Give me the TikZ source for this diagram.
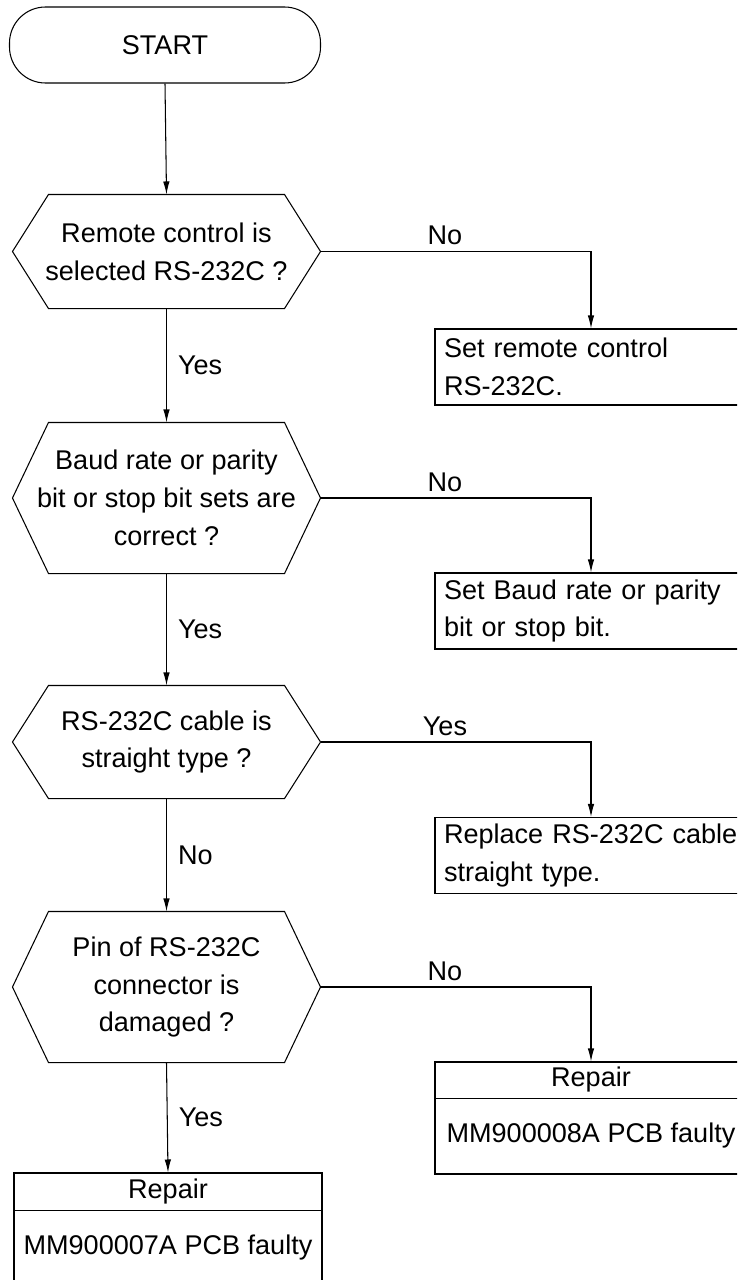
\documentclass[tikz,border=0pt]{standalone}
\usepackage{fontspec}
\setmainfont{Liberation Sans}
\usetikzlibrary{arrows.meta}

\tikzset{
  every node/.style={font=\fontsize{15.4}{21.5}\selectfont},
  terminal/.style={rectangle, draw, rounded corners=0.72cm, minimum width=6.22cm, minimum height=1.52cm},
  decision/.style={rectangle, minimum width=6.14cm, align=center, inner sep=0pt},
  action/.style={rectangle, draw, minimum height=1.52cm, text width=5.88cm, inner xsep=0.18cm, align=left},
  repairbox/.style={rectangle, draw, minimum height=2.24cm},
  flow/.style={-{Latex[length=0.26cm,width=0.13cm]}},
  answer/.style={inner sep=0.12cm}
}

\begin{document}
\begin{tikzpicture}[line width=0.6pt]
			\clip (0,0) rectangle (14.74,-25.6);
			
			% Main column
			\node[terminal] (start) at (3.30,-0.90) {START};
			\node[decision, minimum height=2.26cm] (q1) at (3.33,-5.03) {Remote control is\\selected RS-232C ?};
			\node[decision, minimum height=3.0cm] (q2) at (3.33,-9.96) {Baud rate or parity\\bit or stop bit sets are\\correct ?};
			\node[decision, minimum height=2.24cm] (q3) at (3.33,-14.84) {RS-232C cable is\\straight type ?};
			\node[decision, minimum height=3.0cm] (q4) at (3.33,-19.74) {Pin of RS-232C\\connector is\\damaged ?};
			\node[repairbox, minimum width=6.16cm] (rep7) at (3.36,-24.58) {};
			
			% Hexagon outlines
			\foreach \q in {q1,q2,q3,q4}
			\draw (\q.west) -- ([xshift=0.72cm]\q.north west) -- ([xshift=-0.72cm]\q.north east)
			-- (\q.east) -- ([xshift=-0.72cm]\q.south east) -- ([xshift=0.72cm]\q.south west) -- cycle;
			
			% Right column
			\node[action] (act1) at (11.82,-7.34) {Set remote control\\RS-232C.};
			\node[action] (act2) at (11.82,-12.22) {Set Baud rate or parity\\bit or stop bit.};
			\node[action] (act3) at (11.82,-17.11) {Replace RS-232C cable\\straight type.};
			\node[repairbox, minimum width=6.24cm] (rep8) at (11.82,-22.36) {};
			
			% Repair boxes
			\draw ([yshift=-0.76cm]rep7.north west) -- ([yshift=-0.76cm]rep7.north east);
			\node (rep7t) at ([yshift=-0.38cm]rep7.north) {Repair};
			\node (rep7b) at ([yshift=-1.5cm]rep7.north) {MM900007A PCB faulty};
			\draw ([yshift=-0.74cm]rep8.north west) -- ([yshift=-0.74cm]rep8.north east);
			\node (rep8t) at ([yshift=-0.37cm]rep8.north) {Repair};
			\node (rep8b) at ([yshift=-1.49cm]rep8.north) {MM900008A PCB faulty};
			
			% Arrows down
			\draw[flow] (start.south) -- (q1.north);
			\draw[flow] (q1.south) -- node[answer, right, xshift=0.1cm] {Yes} (q2.north);
			\draw[flow] (q2.south) -- node[answer, right, xshift=0.1cm] {Yes} (q3.north);
			\draw[flow] (q3.south) -- node[answer, right, xshift=0.1cm] {No} (q4.north);
			\draw[flow] (q4.south) -- node[answer, right, xshift=0.1cm] {Yes} (rep7.north);
			
			% Arrows right
			\draw[flow] (q1.east) -| node[pos=0.23, above] {No} (act1.north);
			\draw[flow] (q2.east) -| node[pos=0.23, above] {No} (act2.north);
			\draw[flow] (q3.east) -| node[pos=0.23, above] {Yes} (act3.north);
			\draw[flow] (q4.east) -| node[pos=0.23, above] {No} (rep8.north);
		\end{tikzpicture}
\end{document}
